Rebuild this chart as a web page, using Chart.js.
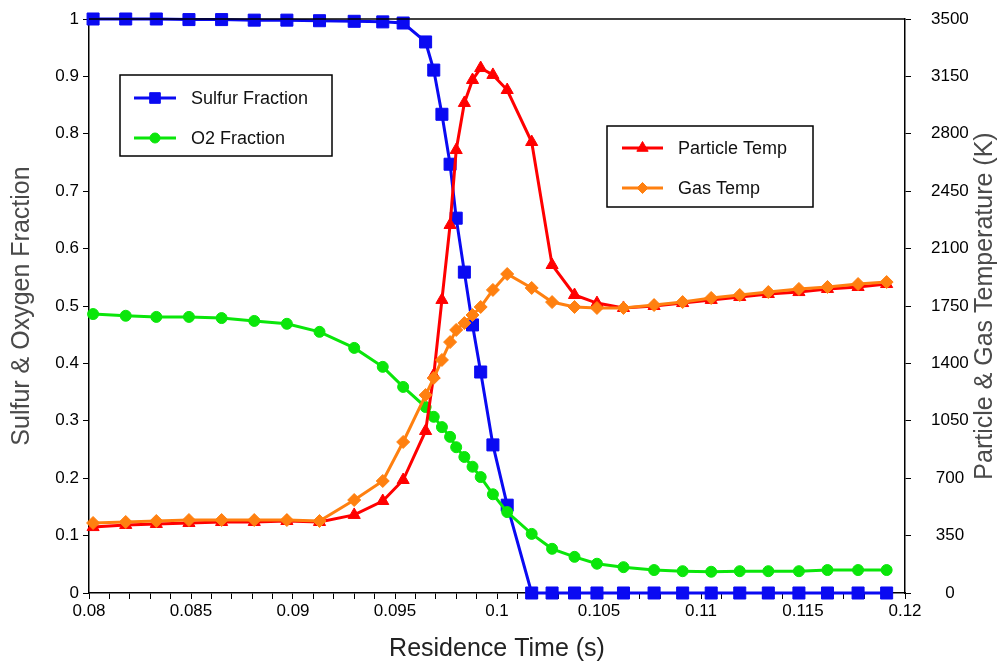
<!DOCTYPE html>
<html><head><meta charset="utf-8">
<script src="https://cdn.jsdelivr.net/npm/chart.js@4/dist/chart.umd.min.js"></script>
<style>html,body{margin:0;padding:0;background:#fff;overflow:hidden}</style>
</head><body>
<canvas id="c" width="1000" height="661"></canvas>
<script>
// ---- data ----
const residenceTime = [0.0802, 0.0818, 0.0833, 0.0849, 0.0865, 0.0881, 0.0897, 0.0913, 0.0930, 0.0944,
  0.0954, 0.0965, 0.0969, 0.0973, 0.0977, 0.0980, 0.0984, 0.0988, 0.0992, 0.0998,
  0.1005, 0.1017, 0.1027, 0.1038, 0.1049, 0.1062, 0.1077, 0.1091, 0.1105, 0.1119,
  0.1133, 0.1148, 0.1162, 0.1177, 0.1191];
const sulfurFraction = [1.0, 1.0, 1.0, 0.999, 0.999, 0.998, 0.998, 0.997, 0.996, 0.995,
  0.993, 0.960, 0.911, 0.834, 0.747, 0.653, 0.559, 0.467, 0.385, 0.258,
  0.153, 0, 0, 0, 0, 0, 0, 0, 0, 0,
  0, 0, 0, 0, 0];
const o2Fraction = [0.486, 0.483, 0.481, 0.481, 0.479, 0.474, 0.469, 0.455, 0.427, 0.394,
  0.359, 0.324, 0.307, 0.289, 0.272, 0.254, 0.237, 0.220, 0.202, 0.172,
  0.141, 0.103, 0.077, 0.063, 0.051, 0.045, 0.040, 0.038, 0.037, 0.038,
  0.038, 0.038, 0.040, 0.040, 0.040];
const particleTemp = [402, 415, 421, 427, 433, 433, 439, 433, 476, 561,
  689, 988, 1329, 1787, 2244, 2701, 2988, 3128, 3201, 3159,
  3067, 2750, 2000, 1817, 1768, 1738, 1750, 1768, 1787, 1805,
  1823, 1835, 1854, 1866, 1884];
const gasTemp = [427, 433, 439, 445, 445, 445, 445, 439, 567, 683,
  921, 1207, 1311, 1421, 1530, 1604, 1646, 1695, 1744, 1848,
  1945, 1860, 1774, 1744, 1738, 1738, 1756, 1774, 1799, 1817,
  1835, 1854, 1866, 1884, 1896];
const xTickLabels = ['0.08', '0.085', '0.09', '0.095', '0.1', '0.105', '0.11', '0.115', '0.12'];
const leftTickLabels = ['0', '0.1', '0.2', '0.3', '0.4', '0.5', '0.6', '0.7', '0.8', '0.9', '1'];
const rightTickLabels = ['0', '350', '700', '1050', '1400', '1750', '2100', '2450', '2800', '3150', '3500'];

const FONT = "'Liberation Sans', Arial, sans-serif";
const pts = (ys) => residenceTime.map((x, i) => ({x, y: ys[i]}));

const cBlue = '#0a0af2', cGreen = '#0ae60a', cRed = '#ff0000', cOrange = '#ff8010';

const datasets = [
  {label: 'Gas Temp', data: pts(gasTemp), yAxisID: 'y2', borderColor: cOrange, backgroundColor: cOrange,
   pointStyle: 'rectRot', pointRadius: 6.5, order: 0},
  {label: 'Particle Temp', data: pts(particleTemp), yAxisID: 'y2', borderColor: cRed, backgroundColor: cRed,
   pointStyle: 'triangle', pointRadius: 7, order: 1},
  {label: 'O2 Fraction', data: pts(o2Fraction), yAxisID: 'y', borderColor: cGreen, backgroundColor: cGreen,
   pointStyle: 'circle', pointRadius: 5.5, order: 2},
  {label: 'Sulfur Fraction', data: pts(sulfurFraction), yAxisID: 'y', borderColor: cBlue, backgroundColor: cBlue,
   pointStyle: 'rect', pointRadius: 8.5, order: 3},
].map(d => Object.assign({borderWidth: 3, pointBorderWidth: 1, pointBorderColor: d.borderColor, tension: 0, clip: false}, d));

const legendGroups = [
  {box: [120, 75, 332, 156], items: ['Sulfur Fraction', 'O2 Fraction'], rows: [98, 138], line: [134, 176], text: 191},
  {box: [607, 126, 813, 207], items: ['Particle Temp', 'Gas Temp'], rows: [148, 188], line: [622, 663], text: 678},
];
const legendMarkerRadius = {'Sulfur Fraction': 7.5, 'O2 Fraction': 5, 'Particle Temp': 6.5, 'Gas Temp': 5.5};

const decor = {
  id: 'decor',
  afterDraw(chart) {
    const ctx = chart.ctx, a = chart.chartArea;
    ctx.save();
    // frame (top edge)
    ctx.strokeStyle = '#000'; ctx.lineWidth = 1.5;
    ctx.beginPath(); ctx.moveTo(a.left, a.top); ctx.lineTo(a.right, a.top); ctx.stroke();
    // legends
    legendGroups.forEach(g => {
      ctx.fillStyle = '#fff';
      ctx.fillRect(g.box[0], g.box[1], g.box[2] - g.box[0], g.box[3] - g.box[1]);
      ctx.strokeStyle = '#000'; ctx.lineWidth = 1.5;
      ctx.strokeRect(g.box[0], g.box[1], g.box[2] - g.box[0], g.box[3] - g.box[1]);
      g.items.forEach((name, k) => {
        const ds = chart.data.datasets.find(d => d.label === name);
        const y = g.rows[k];
        ctx.strokeStyle = ds.borderColor; ctx.lineWidth = 3;
        ctx.beginPath(); ctx.moveTo(g.line[0], y); ctx.lineTo(g.line[1], y); ctx.stroke();
        ctx.fillStyle = ds.backgroundColor; ctx.strokeStyle = ds.borderColor; ctx.lineWidth = 1;
        Chart.helpers.drawPoint(ctx, {pointStyle: ds.pointStyle, radius: legendMarkerRadius[name], rotation: 0, borderWidth: 1},
          (g.line[0] + g.line[1]) / 2, y);
        ctx.fillStyle = '#111'; ctx.font = '18px ' + FONT;
        ctx.textAlign = 'left'; ctx.textBaseline = 'middle';
        ctx.fillText(name, g.text, y + 1);
      });
    });
    // axis titles
    const midY = (a.top + a.bottom) / 2;
    ctx.fillStyle = '#4a4a4a'; ctx.font = '25px ' + FONT;
    ctx.textAlign = 'center'; ctx.textBaseline = 'middle';
    ctx.save(); ctx.translate(22, midY); ctx.rotate(-Math.PI / 2);
    ctx.fillText('Sulfur & Oxygen Fraction', 0, 0); ctx.restore();
    ctx.save(); ctx.translate(985, midY); ctx.rotate(-Math.PI / 2);
    ctx.fillText('Particle & Gas Temperature (K)', 0, 0); ctx.restore();
    ctx.fillStyle = '#222'; ctx.font = '25px ' + FONT;
    ctx.fillText('Residence Time (s)', (a.left + a.right) / 2, 649);
    ctx.restore();
  }
};

const axisCommon = {
  grid: {display: true, drawOnChartArea: false, drawTicks: true, tickLength: 6, color: '#000', tickWidth: 1},
  border: {display: true, color: '#000', width: 1.5},
};
const fixVPad = (s) => { s.paddingTop = 9; s.paddingBottom = 9; };

new Chart(document.getElementById('c'), {
  type: 'line',
  data: {datasets},
  options: {
    responsive: false, animation: false,
    layout: {padding: {top: 19, left: 0, right: 0, bottom: 0}},
    plugins: {legend: {display: false}, tooltip: {enabled: false}},
    scales: {
      x: Object.assign({}, axisCommon, {
        type: 'linear', position: 'bottom', min: 0.08, max: 0.12,
        afterBuildTicks(s) {
          const t = []; for (let i = 0; i <= 40; i++) t.push({value: +(0.08 + i * 0.001).toFixed(3)});
          s.ticks = t;
        },
        afterFit(s) { s.height = 68; },
        ticks: {autoSkip: false, maxRotation: 0, color: '#000', font: {family: FONT, size: 17}, padding: 2,
          callback: (v) => { const k = Math.round((v - 0.08) / 0.005); return Math.abs(v - 0.08 - k * 0.005) < 1e-7 ? xTickLabels[k] : ''; }}
      }),
      y: Object.assign({}, axisCommon, {
        type: 'linear', position: 'left', min: 0, max: 1,
        afterBuildTicks(s) { s.ticks = leftTickLabels.map(l => ({value: +l})); },
        afterFit(s) { s.width = 89; fixVPad(s); },
        ticks: {color: '#000', font: {family: FONT, size: 17}, padding: 4, callback: (v, i) => leftTickLabels[i]}
      }),
      y2: Object.assign({}, axisCommon, {
        type: 'linear', position: 'right', min: 0, max: 3500,
        afterBuildTicks(s) { s.ticks = rightTickLabels.map(l => ({value: +l})); },
        afterFit(s) { s.width = 95; fixVPad(s); },
        ticks: {color: '#000', font: {family: FONT, size: 17}, padding: 20, crossAlign: 'center',
          callback: (v, i) => rightTickLabels[i]}
      }),
    }
  },
  plugins: [decor]
});
</script>
</body></html>
